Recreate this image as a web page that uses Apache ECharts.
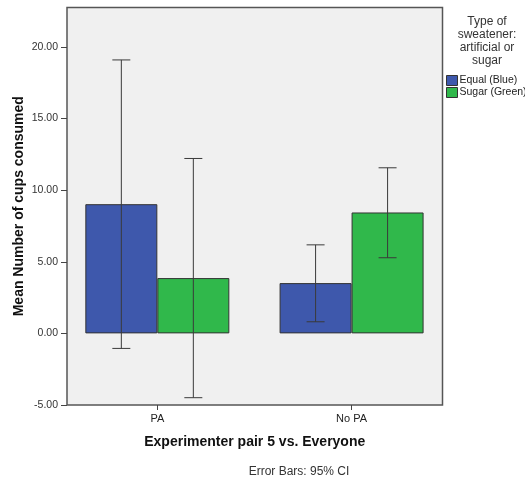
<!DOCTYPE html>
<html><head><meta charset="utf-8">
<script src="https://cdn.jsdelivr.net/npm/echarts@6/dist/echarts.min.js"></script>
<style>html,body{margin:0;padding:0;background:#fff}#c{width:525px;height:480px}</style>
</head><body><div id="c"></div>
<script>
var categories = ['PA', 'No PA'];
var seriesNames = ['Equal (Blue)', 'Sugar (Green)'];
var equalMean = [9.02, 3.51];
var equalLow = [-1.05, 0.81];
var equalHigh = [19.09, 6.18];
var sugarMean = [3.86, 8.44];
var sugarLow = [-4.49, 5.28];
var sugarHigh = [12.21, 11.56];
var yTicks = [-5, 0, 5, 10, 15, 20];

var FONT = 'Liberation Sans, Arial, sans-serif';
var BAR_W = 72;
var colors = ['#3e58ac', '#30b84b'];

function pts(vals){ return vals.map(function(v,i){ return [i, v]; }); }
function errData(low, high){ return low.map(function(l,i){ return [i, l, high[i]]; }); }
function errSeries(low, high, dir){
  return {
    type: 'custom', silent: true, z: 5,
    data: errData(low, high),
    renderItem: function(params, api){
      var x = api.value(0);
      var lo = api.coord([x, api.value(1)]);
      var hi = api.coord([x, api.value(2)]);
      var cx = lo[0] + dir * BAR_W / 2;
      var cap = 9;
      var st = {stroke: '#3a3a3a', lineWidth: 1};
      return {type: 'group', children: [
        {type: 'line', shape: {x1: cx, y1: lo[1], x2: cx, y2: hi[1]}, style: st},
        {type: 'line', shape: {x1: cx - cap, y1: lo[1], x2: cx + cap, y2: lo[1]}, style: st},
        {type: 'line', shape: {x1: cx - cap, y1: hi[1], x2: cx + cap, y2: hi[1]}, style: st}
      ]};
    }
  };
}

var chart = echarts.init(document.getElementById('c'));
chart.setOption({
  animation: false,
  backgroundColor: '#ffffff',
  textStyle: {fontFamily: FONT},
  title: [
    {text: 'Type of\nsweatener:\nartificial or\nsugar', left: 482, top: 10, textAlign: 'center',
     textStyle: {fontSize: 12, fontWeight: 'normal', color: '#333', lineHeight: 13, fontFamily: FONT}},
    {text: 'Error Bars: 95% CI', left: 294, top: 461, textAlign: 'center',
     textStyle: {fontSize: 12, fontWeight: 'normal', color: '#333', fontFamily: FONT}}
  ],
  legend: {
    orient: 'vertical', left: 446, top: 75, padding: 0, itemWidth: 11, itemHeight: 10, itemGap: 1,
    icon: 'rect', data: seriesNames,
    textStyle: {fontSize: 10.5, color: '#222', fontFamily: FONT, padding: [0, 0, 0, -3]},
    itemStyle: {borderColor: '#333', borderWidth: 1}
  },
  grid: {left: 67, right: 82.5, top: 7.5, bottom: 75, show: true, outerBoundsMode: 'none',
         containLabel: false,
         backgroundColor: '#f0f0f0', borderColor: '#555', borderWidth: 1.5},
  xAxis: {
    type: 'value', min: -0.465, max: 1.468,
    splitLine: {show: false},
    axisLine: {show: false, onZero: false},
    axisTick: {show: true, customValues: [0, 1], length: 5, lineStyle: {color: '#444'}},
    axisLabel: {customValues: [0, 1], color: '#222', fontSize: 11, margin: 8,
      formatter: function(v){ return categories[Math.round(v)]; }},
    name: 'Experimenter pair 5 vs. Everyone', nameLocation: 'middle', nameGap: 30,
    nameTextStyle: {fontSize: 14, fontWeight: 'bold', color: '#111', fontFamily: FONT}
  },
  yAxis: {
    type: 'value', min: yTicks[0], max: 22.75, interval: 5,
    splitLine: {show: false},
    axisLine: {show: false, onZero: false},
    axisTick: {show: true, length: 6, lineStyle: {color: '#444'}},
    axisLabel: {color: '#333', fontSize: 10.5, margin: 9, showMaxLabel: false,
      formatter: function(v){ return yTicks.indexOf(v) >= 0 ? v.toFixed(2) : ''; }},
    name: 'Mean Number of cups consumed', nameLocation: 'middle', nameGap: 41,
    nameMoveOverlap: false,
    nameTextStyle: {fontSize: 14, fontWeight: 'bold', color: '#111', fontFamily: FONT}
  },
  series: [
    {name: seriesNames[0], type: 'bar', data: pts(equalMean), barWidth: BAR_W, barGap: '0%',
     itemStyle: {color: colors[0], borderColor: '#333', borderWidth: 1}},
    {name: seriesNames[1], type: 'bar', data: pts(sugarMean), barWidth: BAR_W, barGap: '0%',
     itemStyle: {color: colors[1], borderColor: '#333', borderWidth: 1}},
    errSeries(equalLow, equalHigh, -1),
    errSeries(sugarLow, sugarHigh, 1)
  ]
});
</script></body></html>
